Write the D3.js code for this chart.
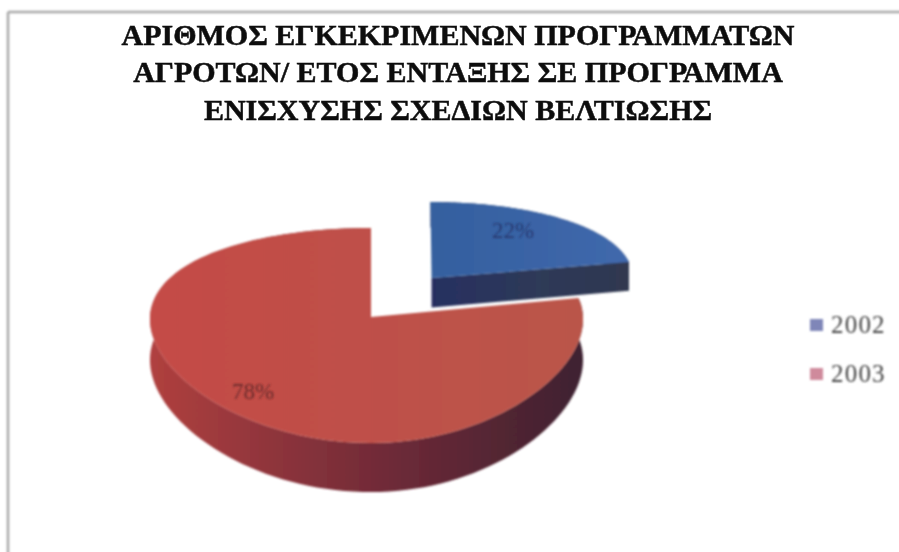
<!DOCTYPE html>
<html><head><meta charset="utf-8">
<script src="https://cdn.jsdelivr.net/npm/d3@7/dist/d3.min.js"></script>
<style>html,body{margin:0;padding:0;background:#fff}svg{display:block}</style>
</head><body>
<svg id="c" width="899" height="552"></svg>
<script>
const titleLines = ["ΑΡΙΘΜΟΣ ΕΓΚΕΚΡΙΜΕΝΩΝ ΠΡΟΓΡΑΜΜΑΤΩΝ","ΑΓΡΟΤΩΝ/ ΕΤΟΣ ΕΝΤΑΞΗΣ ΣΕ ΠΡΟΓΡΑΜΜΑ","ΕΝΙΣΧΥΣΗΣ ΣΧΕΔΙΩΝ ΒΕΛΤΙΩΣΗΣ"];
const years = ["2002","2003"];
const shares = [22,78];
const topColors = [["#34609f","#4068ac"],["#c44b47","#ba5549"]];
const sideColors = [["#272f60","#2e3a58","#303850"],["#b0403f","#6f2a38","#3e2230"]];
const legendColors = ["#7f86b8","#cf8a9c"];
const explodeX = [0.288,0];
const explodeY = [-0.4,0];
const radiusScale = [0.96,1];
const depths = [38,49];

const svg = d3.select("#c");
const defs = svg.append("defs");
defs.append("filter").attr("id","soft").append("feGaussianBlur").attr("stdDeviation",0.9);
defs.append("filter").attr("id","softText").attr("x","-5%").attr("width","110%").append("feGaussianBlur").attr("stdDeviation",0.5);
defs.append("filter").attr("id","softLabel").attr("x","-20%").attr("width","140%").append("feGaussianBlur").attr("stdDeviation",1);

// frame: only the top and left rules are visible
const frame=svg.append("g").attr("filter","url(#soft)").attr("stroke","#a8a8a8").attr("stroke-width",2.5);
frame.append("line").attr("x1",8).attr("y1",12).attr("x2",905).attr("y2",12);
frame.append("line").attr("x1",8).attr("y1",12).attr("x2",8).attr("y2",560);

// title
svg.append("g").attr("filter","url(#softText)").selectAll("text").data(titleLines).join("text")
  .attr("x",458).attr("y",(d,i)=>[45,82,120][i]).attr("text-anchor","middle")
  .attr("font-family","'Liberation Serif',serif").attr("font-weight","bold").attr("font-size",30)
  .attr("fill","#0c0c0c").attr("stroke","#0c0c0c").attr("stroke-width",0.5).text(d=>d);

// perspective pie
const cx=371, cy=317, B=104.3, k=0.172, kx=0.02;
const project=(u,v,z=0)=>{
  const W=1-k*v, Wx=1-kx*v;
  const A=u<0?221:212;
  return [cx+A*u/Wx, cy+B*v/W+z*0.83/W];
};
const pie=d3.pie().sort(null).value(d=>d)(shares);
const angleRange=(a,b,n=120)=>d3.range(n+1).map(i=>a+(b-a)*i/n);
const line=d3.line();

function slice(d,i){
  const ox=explodeX[i], oy=explodeY[i], r=radiusScale[i], D=depths[i];
  const rim=(t,z)=>project(ox+r*Math.sin(t),oy-r*Math.cos(t),z);
  const apex=z=>project(ox,oy,z);
  const as=angleRange(d.startAngle,d.endAngle);
  const g=svg.append("g").attr("filter","url(#soft)");
  const sg=defs.append("linearGradient").attr("id","side"+i).attr("gradientUnits","userSpaceOnUse")
    .attr("x1",i?150:430).attr("x2",i?582:627).attr("y1",0).attr("y2",0);
  sideColors[i].forEach((c,j)=>sg.append("stop").attr("offset",[0,0.55,1][j]).attr("stop-color",c));
  const tg=defs.append("linearGradient").attr("id","top"+i).attr("gradientUnits","userSpaceOnUse")
    .attr("x1",i?150:430).attr("x2",i?582:627).attr("y1",0).attr("y2",0);
  topColors[i].forEach((c,j)=>tg.append("stop").attr("offset",j).attr("stop-color",c));
  // outer wall
  g.append("path").attr("fill",`url(#side${i})`)
    .attr("d",line(as.map(t=>rim(t,0)).concat(as.slice().reverse().map(t=>rim(t,D))))+"Z");
  // radial wall facing the viewer (the 2002 slice's closing edge)
  if(i===0) g.append("path").attr("fill",`url(#side${i})`)
    .attr("d",line([apex(0),rim(d.endAngle,0),rim(d.endAngle,D),apex(D)])+"Z");
  // top face
  g.append("path").attr("fill",`url(#top${i})`)
    .attr("d",line([apex(0)].concat(as.map(t=>rim(t,0))))+"Z");
}
pie.forEach(slice);

// percent labels
const pct=svg.append("g").attr("filter","url(#softLabel)").attr("font-family","'Liberation Serif',serif")
  .attr("font-size",23).attr("text-anchor","middle");
const labelPos=[[513,238],[253,399]];
const labelCol=["#263a72","#6b2a2c"];
shares.forEach((s,i)=>pct.append("text").attr("x",labelPos[i][0]).attr("y",labelPos[i][1]).attr("fill",labelCol[i]).text(s+"%"));

// legend
const lg=svg.append("g").attr("filter","url(#softLabel)");
years.forEach((y,i)=>{
  const yy=[325,374][i];
  lg.append("rect").attr("x",810).attr("y",yy-6).attr("width",13).attr("height",12).attr("fill",legendColors[i]);
  lg.append("text").attr("x",831).attr("y",yy+8).attr("font-family","'Liberation Serif',serif")
    .attr("font-size",25).attr("letter-spacing",1.2).attr("fill","#444").text(y);
});
</script>
</body></html>
